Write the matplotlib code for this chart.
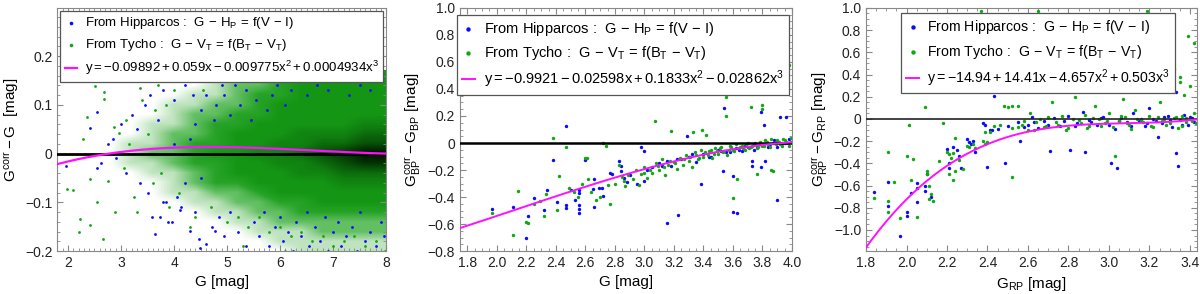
import numpy as np
import matplotlib
matplotlib.use("Agg")
import matplotlib.pyplot as plt
from matplotlib.colors import LinearSegmentedColormap
from matplotlib.ticker import MultipleLocator, FuncFormatter

plt.rcParams['font.family'] = ['Liberation Sans', 'DejaVu Sans']
plt.rcParams['mathtext.fontset'] = 'custom'
plt.rcParams['mathtext.rm'] = 'Liberation Sans'
plt.rcParams['mathtext.it'] = 'Liberation Sans:italic'
plt.rcParams['mathtext.bf'] = 'Liberation Sans:bold'
plt.rcParams['mathtext.default'] = 'regular'

# ---------------- data ----------------
lab_hip = r'From Hipparcos :  $G\, -\, H_P\, =\, f(V\, -\, I)$'
lab_tyc = r'From Tycho :  $G\, -\, V_T\, =\, f(B_T\, -\, V_T)$'

# fit coefficients c0..c3
fit1 = [-0.09892, 0.059, -0.009775, 0.0004934]
fit2 = [-0.9921, -0.02598, 0.1833, -0.02862]
fit3 = [-14.94, 14.41, -4.657, 0.503]

# panel 1 : density of the big cloud (levels 0..9)
dens_g = [2.0, 2.4, 2.8, 3.2, 3.6, 4.0, 4.4, 4.8, 5.2, 5.6, 6.0, 6.4, 6.8, 7.2, 7.6, 8.0]
dens_y = [0.16, 0.14, 0.12, 0.10, 0.08, 0.06, 0.04, 0.02, 0.0, -0.02, -0.04,
          -0.06, -0.08, -0.10, -0.12, -0.14, -0.16, -0.18, -0.20]
# rows top (0.16) to bottom (-0.20)
density = [
    [0, 0, 0, 0, 0, 0, 0, 1, 1, 2, 3, 3, 4, 4, 4, 4],
    [0, 0, 0, 0, 0, 0, 0, 1, 2, 2, 3, 4, 4, 4, 4, 4],
    [0, 0, 0, 0, 0, 0, 1, 1, 2, 3, 3, 4, 4, 4, 4, 4],
    [0, 0, 0, 0, 0, 1, 1, 2, 2, 3, 4, 4, 4, 4, 4, 4],
    [0, 0, 0, 0, 0, 1, 2, 2, 3, 3, 4, 4, 4, 4, 4, 4],
    [0, 0, 0, 0, 1, 1, 2, 3, 3, 4, 4, 4, 4, 4, 5, 5],
    [0, 0, 0, 0, 1, 2, 2, 3, 4, 4, 4, 5, 5, 5, 6, 6],
    [0, 0, 0, 1, 1, 2, 3, 3, 4, 4, 5, 5, 6, 6, 7, 7],
    [0, 0, 0, 1, 2, 2, 3, 4, 4, 5, 5, 6, 7, 8, 9, 9],
    [0, 0, 0, 1, 1, 2, 3, 3, 4, 4, 5, 5, 6, 7, 8, 8],
    [0, 0, 0, 0, 1, 1, 2, 3, 4, 4, 4, 5, 5, 6, 6, 6],
    [0, 0, 0, 0, 0, 1, 2, 3, 3, 4, 4, 4, 4, 5, 5, 5],
    [0, 0, 0, 0, 0, 1, 1, 2, 2, 3, 4, 4, 4, 4, 4, 4],
    [0, 0, 0, 0, 0, 0, 1, 1, 2, 2, 3, 3, 4, 4, 4, 4],
    [0, 0, 0, 0, 0, 0, 0, 1, 1, 2, 2, 3, 3, 3, 3, 3],
    [0, 0, 0, 0, 0, 0, 0, 0, 1, 1, 2, 2, 2, 2, 2, 2],
    [0, 0, 0, 0, 0, 0, 0, 0, 0, 1, 1, 1, 2, 2, 2, 2],
    [0, 0, 0, 0, 0, 0, 0, 0, 0, 0, 1, 1, 1, 1, 1, 1],
    [0, 0, 0, 0, 0, 0, 0, 0, 0, 0, 0, 1, 1, 1, 1, 1],
]

p1_blue_g = [1.97, 2.41, 2.55, 2.55, 2.62, 2.75, 2.85, 2.9, 3.0, 3.1, 3.2, 3.3, 3.35, 3.45, 3.5,
             3.55, 3.58, 3.64, 3.7, 3.74, 3.79, 3.8, 3.85, 3.88, 3.96, 4.0, 4.05, 4.12, 4.14, 4.2,
             4.3, 4.35, 4.4, 4.47, 4.49, 4.6, 4.65, 4.72, 4.78, 4.85, 4.9, 4.95, 5.05, 5.2,
             5.35, 5.5, 5.6, 5.7, 5.8, 5.9, 6.0, 6.05, 6.15, 6.25, 6.3, 6.4, 6.5, 6.55, 6.65,
             6.75, 6.85, 6.9, 7.0, 7.1, 7.15, 7.25, 7.35, 7.45, 7.5, 7.6, 7.7, 7.8, 7.9, 7.95,
             4.5, 4.6, 4.75, 4.8, 4.95, 5.05, 5.15, 5.25, 5.35, 5.45, 5.55, 5.65, 5.75, 5.85,
             5.95, 6.1, 6.2, 6.35, 6.5, 6.7, 6.9, 7.1, 7.3, 7.5, 7.7, 7.9, 4.3, 4.5, 4.2, 4.0, 4.4]
p1_blue_y = [-0.025, 0.053, 0.085, -0.03, -0.02, 0.02, 0.03, -0.01, 0.06, -0.04, 0.08, 0.05, -0.06,
             0.1, -0.08, 0.12, -0.13, -0.165, 0.07, -0.13, -0.1, 0.13, -0.1, -0.14, -0.14, 0.11,
             -0.09, -0.115, -0.11, 0.14, -0.158, 0.12, -0.12, -0.176, -0.193, -0.186, 0.15, -0.15,
             -0.158, -0.13, 0.14, -0.17, -0.12, -0.16, -0.19, -0.14, -0.17, -0.12, -0.19, -0.15,
             -0.13, -0.18, -0.16, -0.2, -0.14, -0.17, -0.12, -0.19, -0.15, -0.18, -0.13, -0.2,
             -0.16, -0.14, -0.19, -0.17, -0.15, -0.2, -0.12, -0.18, -0.16, -0.19, -0.14, -0.17,
             0.09, 0.12, 0.07, 0.1, 0.12, 0.08, 0.14, 0.1, 0.13, 0.07, 0.11, 0.15, 0.09, 0.12,
             0.14, 0.1, 0.13, 0.15, 0.12, 0.14, 0.13, 0.15, 0.12, 0.14, 0.13, 0.15, 0.03, -0.05,
             -0.06, 0.02, 0.06]
p1_green_g = [1.98, 2.1, 2.23, 2.29, 2.35, 2.41, 2.42, 2.51, 2.54, 2.66, 2.68, 2.68, 2.76, 2.86,
              2.89, 2.97, 3.05, 3.15, 3.25, 3.35, 3.4, 3.5, 3.6, 3.65, 3.75, 3.85, 3.9, 4.0,
              4.1, 4.25, 4.4, 4.55, 4.7, 4.85, 5.0, 5.2, 5.4, 5.6, 5.8, 6.0, 6.2, 6.4, 6.6,
              6.8, 7.0, 7.2, 7.4, 7.6, 7.8, 7.98, 5.3, 6.1, 2.2, 2.6, 3.1, 3.3, 3.7, 4.3]
p1_green_y = [-0.072, -0.074, -0.135, 0.03, 0.075, -0.052, -0.146, 0.138, -0.099, -0.176, 0.126,
              0.113, -0.057, 0.054, -0.119, 0.043, -0.03, 0.02, -0.09, 0.135, 0.11, 0.04, -0.06,
              0.09, -0.04, 0.1, -0.11, 0.13, -0.08, 0.15, -0.13, 0.13, -0.11, 0.15, -0.14,
              -0.13, -0.15, -0.13, -0.16, -0.15, -0.17, -0.16, -0.18, -0.17, -0.19, -0.18,
              -0.17, -0.19, -0.18, -0.2, -0.19, -0.2, -0.16, 0.0, 0.07, -0.12, 0.14, -0.15]

p2_blue_g = [1.97, 2.11, 2.20, 2.21, 2.25, 2.32, 2.34, 2.38, 2.41, 2.47, 2.47, 2.47, 2.50, 2.53,
             2.56, 2.56, 2.56, 2.56, 2.56, 2.60, 2.65, 2.66, 2.66, 2.69, 2.71, 2.72, 2.77, 2.78,
             2.83, 2.84, 2.84, 2.86, 2.88, 2.9, 2.95, 2.98, 3.0, 3.0, 3.02, 3.05, 3.1, 3.15,
             3.15, 3.18, 3.23, 3.25, 3.29, 3.3, 3.35, 3.38, 3.4, 3.45, 3.5, 3.53, 3.54, 3.55,
             3.6, 3.60, 3.62, 3.63, 3.66, 3.7, 3.73, 3.73, 3.76, 3.79, 3.79, 3.81, 3.82, 3.85,
             3.88, 3.90, 3.92, 3.93, 3.96, 3.98, 3.9,
             3.44, 3.52, 3.58, 3.64, 3.68, 3.74, 3.78, 3.84, 3.9, 3.95, 3.12, 3.22, 3.32]
p2_blue_y = [-0.489, -0.474, -0.70, -0.54, -0.405, -0.497, -0.348, -0.125, -0.433, 0.124, -0.46,
             -0.48, -0.347, -0.42, -0.345, -0.37, -0.46, -0.49, -0.52, -0.128, -0.34, -0.27,
             -0.47, -0.33, -0.33, -0.39, -0.22, -0.23, -0.13, -0.17, -0.21, -0.26, -0.29, -0.24,
             -0.3, -0.03, -0.06, -0.28, -0.2, -0.18, -0.15, -0.13, -0.59, -0.17, -0.53, -0.12,
             0.05, -0.1, -0.14, -0.306, -0.08, -0.1, -0.05, -0.21, 0.262, -0.07, -0.245, -0.51,
             -0.04, -0.52, -0.06, -0.03, -0.13, -0.17, -0.02, -0.18, 0.23, 0.133, -0.13, -0.01,
             0.02, -0.425, 0.19, 0.0, 0.19, 0.03, -0.03,
             -0.1, -0.06, -0.07, -0.05, -0.02, -0.05, -0.01, -0.03, 0.01, 0.0, -0.17, -0.12, -0.08]
p2_green_g = [1.97, 2.11, 2.14, 2.20, 2.21, 2.25, 2.29, 2.32, 2.33, 2.38, 2.41, 2.42, 2.47, 2.49,
              2.52, 2.55, 2.58, 2.60, 2.61, 2.62, 2.64, 2.67, 2.70, 2.72, 2.74, 2.75, 2.77,
              2.80, 2.83, 2.85, 2.86, 2.87, 2.89, 2.92, 2.94, 2.96, 2.98, 3.0, 3.02, 3.05, 3.07,
              3.08, 3.1, 3.12, 3.14, 3.16, 3.18, 3.2, 3.22, 3.24, 3.26, 3.28, 3.3, 3.32, 3.33,
              3.34, 3.36, 3.38, 3.39, 3.4, 3.42, 3.44, 3.46, 3.48, 3.5, 3.52, 3.54, 3.55, 3.555,
              3.56, 3.58, 3.6, 3.6, 3.62, 3.63, 3.64, 3.66, 3.68, 3.7, 3.72, 3.72, 3.74, 3.76,
              3.78, 3.8, 3.8, 3.8, 3.82, 3.84, 3.86, 3.86, 3.87, 3.88, 3.9, 3.92, 3.92, 3.94,
              3.96, 3.98, 3.98, 3.99, 3.76,
              3.41, 3.43, 3.45, 3.47, 3.49, 3.51, 3.53, 3.57, 3.59, 3.61, 3.65, 3.67, 3.69, 3.71,
              3.73, 3.75, 3.77, 3.79, 3.81, 3.83, 3.85, 3.87, 3.89, 3.91, 3.93, 3.95, 3.97, 3.99,
              3.0, 3.04, 3.09, 3.13, 3.17, 3.21, 3.27, 3.31, 3.35, 3.37]
p2_green_y = [-0.52, -0.679, -0.358, -0.585, -0.59, -0.45, -0.43, -0.54, -0.38, 0.037, -0.497,
              -0.244, -0.032, -0.33, -0.36, -0.4, -0.3, -0.11, -0.11, -0.27, -0.36, -0.42, -0.4,
              0.0, -0.02, -0.31, -0.45, -0.3, -0.16, -0.25, -0.28, -0.32, -0.24, -0.27, -0.2,
              -0.31, -0.23, -0.18, -0.26, -0.22, 0.165, -0.15, -0.2, -0.12, -0.24, -0.16, 0.09,
              -0.14, -0.19, -0.11, -0.16, -0.09, -0.13, -0.18, 0.085, -0.07, -0.12, -0.05, 0.10,
              -0.1, 0.06, -0.06, -0.11, -0.04, -0.08, -0.03, -0.06, 0.2, 0.343, -0.09, -0.02,
              -0.408, -0.05, -0.01, -0.27, -0.04, -0.02, -0.05, 0.0, 0.27, -0.03, -0.01, -0.04,
              0.01, 0.25, 0.28, -0.02, 0.02, -0.01, -0.2, 0.03, -0.21, 0.0, 0.02, 0.417, -0.01,
              0.03, 0.01, 0.578, -0.02, 0.04, -0.23,
              -0.07, -0.09, -0.05, -0.08, -0.06, -0.04, -0.07, -0.05, -0.03, -0.06, -0.03, -0.04,
              -0.01, -0.04, -0.02, 0.0, -0.03, -0.01, -0.02, 0.01, -0.03, 0.0, -0.01, 0.01,
              -0.02, 0.02, 0.0, 0.01,
              -0.22, -0.2, -0.17, -0.18, -0.13, -0.15, -0.12, -0.1, -0.09, -0.11]

p3_blue_g = [1.84, 1.91, 1.91, 1.97, 2.0, 2.0, 2.02, 2.05, 2.05, 2.05, 2.09, 2.09, 2.1, 2.12,
             2.195, 2.2, 2.21, 2.21, 2.23, 2.25, 2.26, 2.27, 2.3, 2.31, 2.32, 2.33, 2.34, 2.38,
             2.39, 2.40, 2.41, 2.42, 2.43, 2.45, 2.486, 2.5, 2.55, 2.56, 2.6, 2.62, 2.65, 2.68,
             2.71, 2.73, 2.76, 2.8, 2.81, 2.84, 2.87, 2.88, 2.9, 2.94, 2.97, 3.01, 3.02, 3.03,
             3.04, 3.06, 3.09, 3.12, 3.15, 3.18, 3.2, 3.22, 3.24, 3.26, 3.28, 3.29, 3.31, 3.33,
             3.33, 3.34, 3.35, 3.37, 3.39, 3.41, 3.42,
             2.58, 2.63, 2.7, 2.78, 2.83, 2.91, 2.96, 3.0, 3.05, 3.11, 3.16, 3.19, 3.23, 3.27,
             3.3, 3.36, 3.4]
p3_blue_y = [-0.66, -0.565, -0.78, -1.05, -0.84, -0.87, -0.67, -0.58, -0.62, -0.75, -0.65, -0.6,
             -0.5, -0.7, 0.27, -0.27, -0.40, -0.44, -0.25, -0.28, -0.33, -0.44, -0.18, -0.21,
             -0.23, -0.2, -0.3, -0.04, -0.05, -0.43, -0.1, -0.1, 0.21, -0.09, -0.40, -0.06,
             -0.03, -0.2, -0.05, 0.02, -0.08, -0.02, -0.29, 0.01, -0.06, 0.03, -0.28, -0.04,
             0.06, -0.3, -0.01, -0.05, 0.02, -0.40, 0.28, -0.09, -0.44, 0.01, -0.03, 0.05,
             -0.02, -0.06, 0.1, 0.0, -0.16, -0.04, 0.35, 0.03, -0.07, 0.24, -0.31, -0.42,
             -0.01, 0.04, -0.05, 0.01, -0.03,
             -0.07, -0.03, -0.05, -0.02, -0.06, -0.03, 0.01, -0.05, -0.02, -0.06, 0.0, -0.04,
             -0.02, 0.02, -0.01, -0.05, 0.02]
p3_green_g = [1.84, 1.91, 1.91, 1.91, 1.94, 1.97, 2.0, 2.01, 2.02, 2.03, 2.05, 2.09, 2.1, 2.1,
              2.11, 2.11, 2.12, 2.13, 2.16, 2.18, 2.2, 2.21, 2.21, 2.22, 2.23, 2.23, 2.24, 2.24,
              2.26, 2.28, 2.3, 2.31, 2.33, 2.34, 2.37, 2.38, 2.39, 2.39, 2.4, 2.41, 2.43, 2.43,
              2.46, 2.48, 2.5, 2.52, 2.52, 2.55, 2.55, 2.58, 2.61, 2.63, 2.65, 2.66, 2.69, 2.72,
              2.74, 2.77, 2.8, 2.83, 2.85, 2.88, 2.9, 2.93, 2.95, 2.98, 3.0, 3.03, 3.05, 3.07,
              3.08, 3.1, 3.13, 3.16, 3.19, 3.2, 3.22, 3.25, 3.27, 3.29, 3.3, 3.31, 3.32, 3.33,
              3.35, 3.36, 3.37, 3.38, 3.39, 3.4, 3.41, 3.42, 3.42, 3.35,
              2.52, 2.57, 2.6, 2.64, 2.68, 2.7, 2.75, 2.79, 2.82, 2.86, 2.89, 2.92, 2.96, 2.99,
              3.02, 3.06, 3.09, 3.11, 3.14, 3.17, 3.21, 3.24, 3.26, 3.28, 3.32, 3.34, 3.36, 3.38,
              3.4, 3.43]
p3_green_y = [-0.71, -0.30, -0.74, -0.84, -0.57, -0.89, -0.33, -0.054, -0.55, -0.36, -0.88,
              0.11, -0.47, -0.5, -0.6, -0.72, -0.68, -0.74, -0.38, -0.04, -0.3, -0.5, -0.32,
              -0.35, -0.55, -0.31, -0.17, -0.47, -0.37, -0.45, -0.24, -0.25, -0.23, -0.26, 0.97,
              -0.2, -0.12, -0.23, -0.21, -0.12, 0.26, -0.06, -0.05, 0.12, 0.11, -0.52, 0.12,
              0.12, -0.07, -0.02, 0.05, -0.1, 0.97, 0.0, -0.06, 0.15, -0.03, 0.03, -0.08, 0.2,
              -0.01, 0.04, -0.06, 0.12, 0.0, -0.04, 0.05, -0.33, -0.02, 0.18, 0.02, -0.05, 0.08,
              -0.01, 0.97, 0.03, -0.07, 0.15, 0.0, 0.47, -0.04, 0.84, 0.45, 0.02, 0.38, -0.06,
              0.22, 0.01, 0.75, 0.3, -0.02, 0.68, 0.05, 0.33,
              -0.08, -0.05, -0.1, -0.03, -0.07, 0.02, -0.05, -0.1, 0.0, -0.04, -0.08, 0.01,
              -0.06, -0.02, -0.07, 0.03, -0.04, -0.09, 0.0, -0.03, -0.06, 0.02, -0.02, -0.05,
              0.01, -0.08, 0.03, -0.03, 0.0, -0.04]

# ---------------- style ----------------
BLUE = '#0a0aff'
GREEN = '#10a810'
MAG = '#ff10ff'
SPINE = '#888888'

dens_cmap = LinearSegmentedColormap.from_list('cloud', [
    (0.0, '#ffffff'), (0.11, '#bfe3bf'), (0.22, '#62bf62'), (0.33, '#27a327'),
    (0.44, '#159715'), (0.6, '#0f7d0f'), (0.75, '#085808'), (0.9, '#033003'),
    (1.0, '#000f00')])


def fmt(v, pos):
    if abs(v) < 1e-9:
        return '0'
    return f'{v:.1f}'.replace('-', '\u2212')


def fmt_int(v, pos):
    return f'{v:.0f}'


def style(ax):
    for s in ax.spines.values():
        s.set_color(SPINE)
        s.set_linewidth(0.8)
    ax.tick_params(which='both', direction='in', color=SPINE, top=True, right=True,
                   labelsize=10, labelcolor='#222222')
    ax.tick_params(which='major', length=4)
    ax.tick_params(which='minor', length=2)


def poly(c, x):
    return c[0] + c[1] * x + c[2] * x ** 2 + c[3] * x ** 3


def add_legend(ax, anchor_x, anchor_y, size):
    leg = ax.legend(loc='upper center', bbox_to_anchor=(anchor_x, anchor_y), fontsize=size,
                    frameon=True, fancybox=False, framealpha=1, edgecolor='#555555',
                    handlelength=0.9, handletextpad=0.6, borderpad=0.35,
                    labelspacing=0.45, markerscale=1.3, borderaxespad=0.2)
    leg.get_frame().set_linewidth(0.9)
    leg.set_zorder(10)


fig = plt.figure(figsize=(12, 2.94), dpi=100)
ax1 = fig.add_axes([0.0478, 0.146, 0.274, 0.827])
ax2 = fig.add_axes([0.3833, 0.146, 0.2767, 0.827])
ax3 = fig.add_axes([0.7217, 0.146, 0.2758, 0.827])

# ---- panel 1 ----
ax1.imshow(np.array(density, dtype=float), cmap=dens_cmap, vmin=0, vmax=9,
           extent=[dens_g[0] - 0.2, dens_g[-1] + 0.2, dens_y[-1] - 0.01, dens_y[0] + 0.01],
           origin='upper', aspect='auto', interpolation='bilinear', zorder=0)
ax1.scatter(p1_blue_g, p1_blue_y, s=4, marker='o', color=BLUE, linewidths=0, zorder=2,
            label=lab_hip)
ax1.scatter(p1_green_g, p1_green_y, s=4, marker='o', color=GREEN, linewidths=0, zorder=2,
            label=lab_tyc)
ax1.axhline(0, color='black', lw=2, zorder=3)
xx = np.linspace(1.8, 8.0, 200)
ax1.plot(xx, poly(fit1, xx), color=MAG, lw=1.6, zorder=4,
         label=r'$y = -0.09892 + 0.059x - 0.009775x^2 + 0.0004934x^3$')
ax1.set_xlim(1.8, 8.0)
ax1.set_ylim(-0.2, 0.299)
ax1.xaxis.set_major_locator(MultipleLocator(1))
ax1.xaxis.set_minor_locator(MultipleLocator(0.1))
ax1.yaxis.set_major_locator(MultipleLocator(0.1))
ax1.yaxis.set_minor_locator(MultipleLocator(0.02))
ax1.xaxis.set_major_formatter(FuncFormatter(fmt_int))
ax1.yaxis.set_major_formatter(FuncFormatter(fmt))
ax1.set_xlabel('G [mag]', fontsize=11)
ax1.set_ylabel(r'$G^{corr} - G$  [mag]', fontsize=11, labelpad=3)
style(ax1)
add_legend(ax1, 0.5, 1.0, 9.5)

# ---- panel 2 ----
ax2.scatter(p2_blue_g, p2_blue_y, s=6, marker='o', color=BLUE, linewidths=0, zorder=2,
            label=lab_hip)
ax2.scatter(p2_green_g, p2_green_y, s=6, marker='o', color=GREEN, linewidths=0, zorder=2,
            label=lab_tyc)
ax2.axhline(0, color='black', lw=1.8, zorder=3)
xx = np.linspace(1.75, 4.0, 200)
ax2.plot(xx, poly(fit2, xx), color=MAG, lw=1.4, zorder=4,
         label=r'$y = -0.9921 - 0.02598x + 0.1833x^2 - 0.02862x^3$')
ax2.set_xlim(1.75, 4.0)
ax2.set_ylim(-0.8, 1.0)
ax2.xaxis.set_major_locator(MultipleLocator(0.2))
ax2.xaxis.set_minor_locator(MultipleLocator(0.05))
ax2.yaxis.set_major_locator(MultipleLocator(0.2))
ax2.yaxis.set_minor_locator(MultipleLocator(0.05))
ax2.xaxis.set_major_formatter(FuncFormatter(fmt))
ax2.yaxis.set_major_formatter(FuncFormatter(fmt))
ax2.set_xlabel('G [mag]', fontsize=11)
ax2.set_ylabel(r'$G^{corr}_{BP} - G_{BP}$ [mag]', fontsize=11, labelpad=3)
style(ax2)
add_legend(ax2, 0.49, 0.985, 10.5)

# ---- panel 3 ----
ax3.scatter(p3_blue_g, p3_blue_y, s=6, marker='o', color=BLUE, linewidths=0, zorder=2,
            label=lab_hip)
ax3.scatter(p3_green_g, p3_green_y, s=6, marker='o', color=GREEN, linewidths=0, zorder=2,
            label=lab_tyc)
ax3.axhline(0, color='#222222', lw=1.2, zorder=3)
xx = np.linspace(1.8, 3.43, 200)
ax3.plot(xx, poly(fit3, xx), color=MAG, lw=1.4, zorder=4,
         label=r'$y = -14.94 + 14.41x - 4.657x^2 + 0.503x^3$')
ax3.set_xlim(1.8, 3.435)
ax3.set_ylim(-1.19, 1.0)
ax3.xaxis.set_major_locator(MultipleLocator(0.2))
ax3.xaxis.set_minor_locator(MultipleLocator(0.05))
ax3.yaxis.set_major_locator(MultipleLocator(0.2))
ax3.yaxis.set_minor_locator(MultipleLocator(0.05))
ax3.xaxis.set_major_formatter(FuncFormatter(fmt))
ax3.yaxis.set_major_formatter(FuncFormatter(fmt))
ax3.set_xlabel(r'$G_{RP}$ [mag]', fontsize=11)
ax3.set_ylabel(r'$G^{corr}_{RP} - G_{RP}$ [mag]', fontsize=11, labelpad=3)
style(ax3)
add_legend(ax3, 0.52, 0.99, 10.2)

fig.savefig('out.png', dpi=100)
